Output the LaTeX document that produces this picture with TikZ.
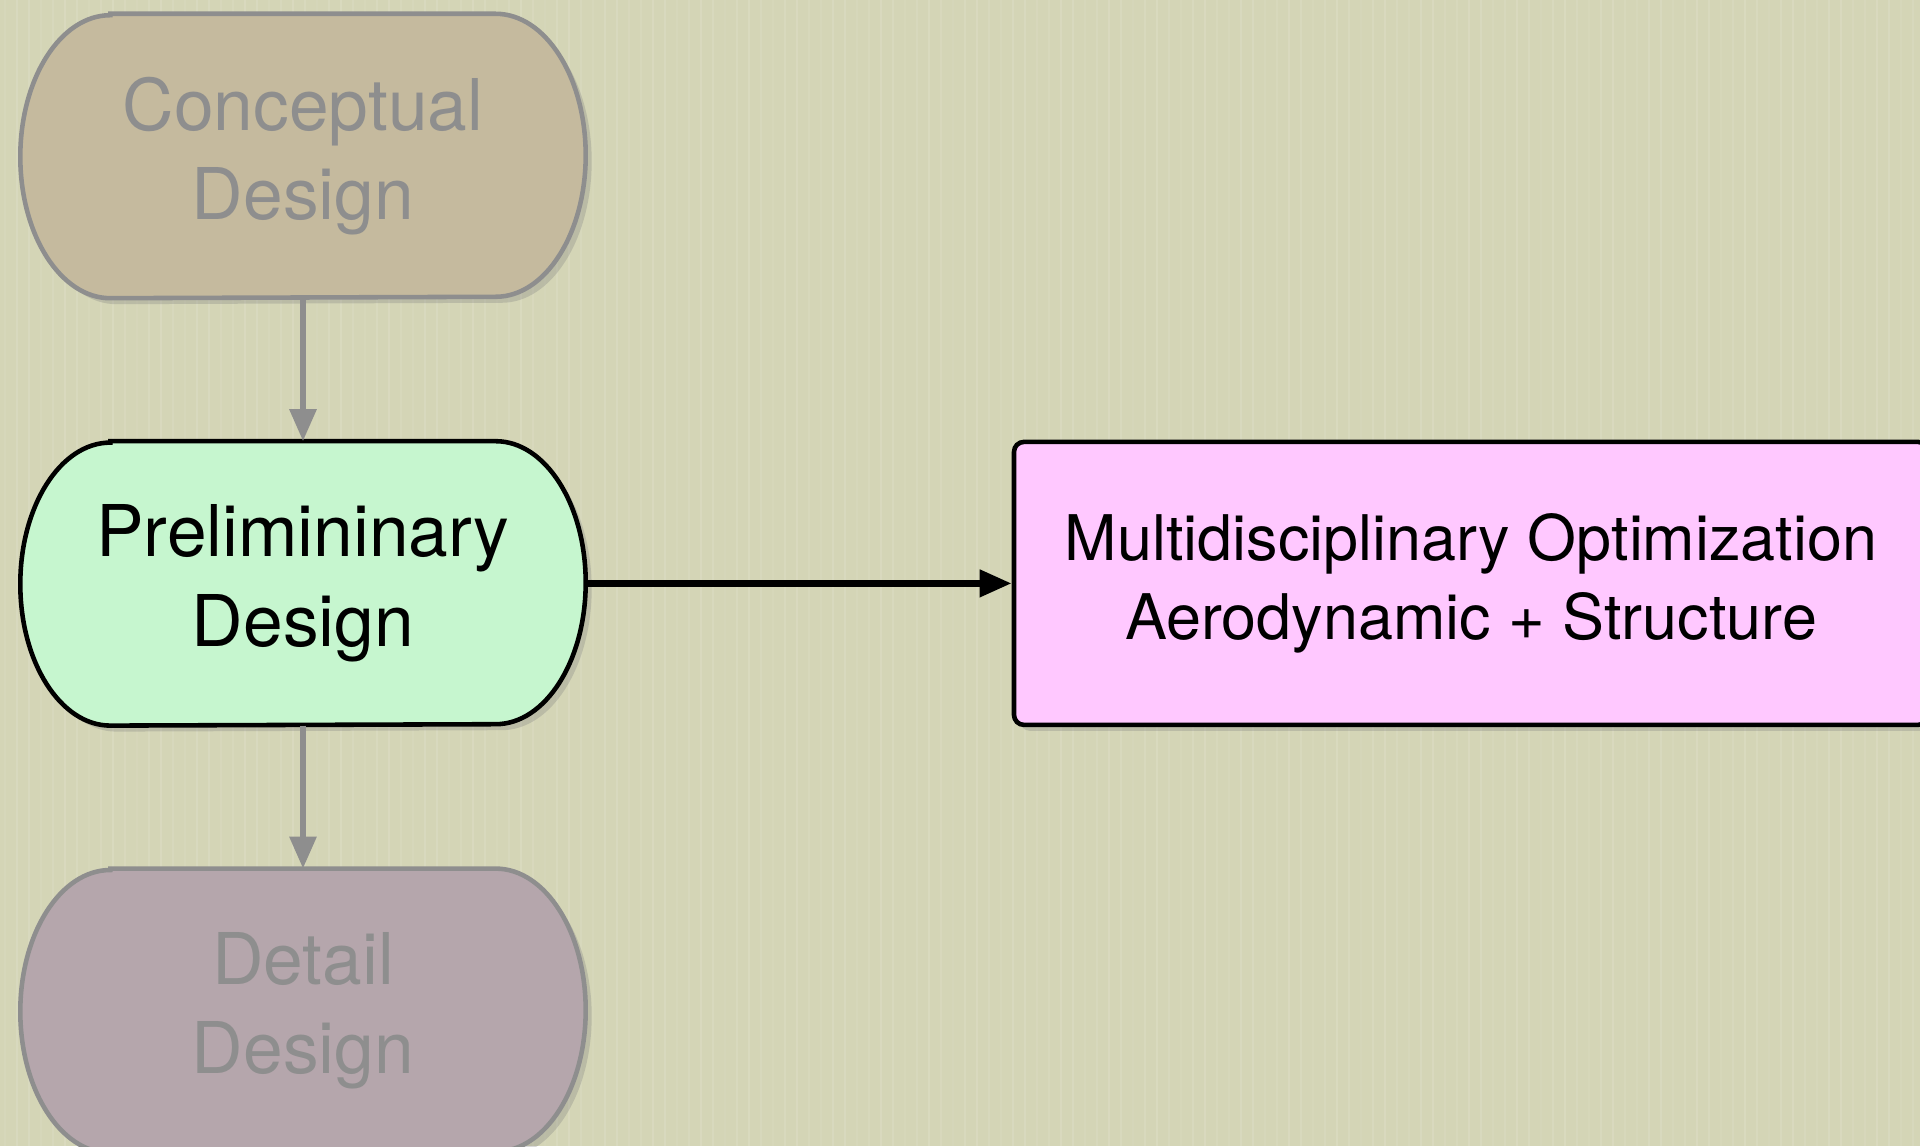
\documentclass[tikz,border=0pt]{standalone}
\usepackage{fontspec}
\setmainfont{TeX Gyre Heros}
\usetikzlibrary{
    arrows.meta,
    positioning, shadows, backgrounds
}
\definecolor{paper}{RGB}{212,213,182}
\definecolor{conceptfill}{RGB}{197,186,158}
\definecolor{prelimfill}{RGB}{198,246,207}
\definecolor{detailfill}{RGB}{181,166,172}
\definecolor{mdofill}{RGB}{255,200,255}
\definecolor{fadegray}{RGB}{142,142,142}
\newcommand{\drawstage}[2][]{
    \begin{scope}[on background layer]
    \draw[line width=1.3pt, #1] ([xshift=0.9cm]#2.north west) -- ([xshift=-0.9cm]#2.north east)
        arc[start angle=90, end angle=-90, x radius=0.9cm, y radius=1.415cm]
        -- ([xshift=0.9cm]#2.south west)
        arc[start angle=270, end angle=90, x radius=0.9cm, y radius=1.415cm] -- cycle;
    \end{scope}
}
\tikzset{
    stage/.style={minimum width=5.64cm, minimum height=2.83cm, inner sep=0pt,
        align=center, font=\fontsize{20.3}{25.5}\selectfont},
    faded/.style={text=fadegray},
    softshadow/.style={drop shadow={shadow xshift=0.06cm, shadow yshift=-0.06cm, opacity=0.3}},
    flow/.style={line width=1.7pt, -{Triangle[length=0.32cm, width=0.26cm]}}
}

\begin{document}
\begin{tikzpicture}
    \useasboundingbox (0, 0) rectangle (19.2, 11.46);
    \begin{scope}[on background layer]
        \fill[paper] (0, 0) rectangle (19.2, 11.46);
        % faint paper grain
        \foreach \x in {0.05, 0.17, ..., 19.2}{
            \pgfmathsetmacro{\grain}{0.04 + 0.08*abs(sin(\x*397))}
            \draw[white, opacity=\grain, line width=0.8pt] (\x, 0) -- (\x, 11.46);
        }
    \end{scope}
    \node[stage, faded] (concept) at (3.03, 9.9) {Conceptual\\Design};
    \node[stage, below=1.43cm of concept] (prelim) {Prelimininary\\Design};
    \node[stage, faded, below=1.43cm of prelim] (detail) {Detail\\Design};
    \node[draw, line width=1.3pt, fill=mdofill, rounded corners=0.1cm, softshadow,
        minimum width=9.14cm, minimum height=2.83cm, align=center,
        font=\fontsize{17.9}{22.5}\selectfont, right=4.26cm of prelim] (mdo)
        {Multidisciplinary Optimization\\Aerodynamic + Structure};
    \drawstage[draw=fadegray, fill=conceptfill, softshadow]{concept}
    \drawstage[draw=black, fill=prelimfill, softshadow]{prelim}
    \drawstage[draw=fadegray, fill=detailfill, softshadow]{detail}
    \draw[flow, fadegray] (concept) -- (prelim);
    \draw[flow, fadegray] (prelim) -- (detail);
    \draw[flow, line width=2pt] (prelim) -- (mdo);
\end{tikzpicture}
\end{document}
